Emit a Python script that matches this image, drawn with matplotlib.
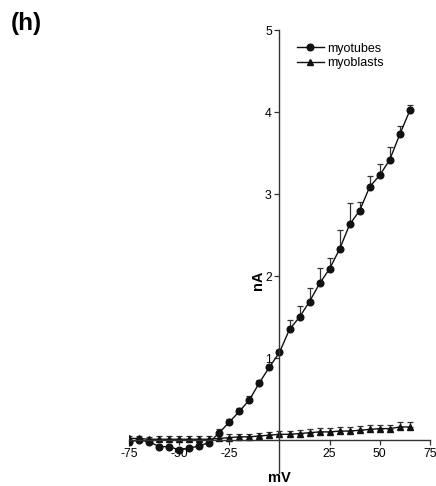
import numpy as np
import matplotlib.pyplot as plt

plt.rcParams['font.family'] = ['Liberation Sans', 'DejaVu Sans']
plt.rcParams['axes.unicode_minus'] = False

# membrane potential (mV)
mv = np.arange(-75, 70, 5)

# myotubes current (nA) and upper error
myotubes = [-0.02, 0.00, -0.02, -0.08, -0.08, -0.12, -0.10, -0.07, -0.03,
            0.09, 0.22, 0.35, 0.49, 0.70, 0.89, 1.07, 1.35, 1.50, 1.69,
            1.91, 2.09, 2.33, 2.63, 2.80, 3.09, 3.23, 3.42, 3.73, 4.02]
myotubes_err = [0.02, 0.02, 0.02, 0.02, 0.02, 0.02, 0.02, 0.02, 0.02,
                0.04, 0.04, 0.04, 0.05, 0.03, 0.03, 0.03, 0.12, 0.13, 0.17,
                0.19, 0.13, 0.23, 0.26, 0.10, 0.13, 0.14, 0.15, 0.10, 0.07]

# myoblasts current (nA) and upper error
myoblasts = [0.02, 0.02, 0.01, 0.01, 0.01, 0.01, 0.01, 0.01, 0.01,
             0.02, 0.03, 0.04, 0.04, 0.05, 0.06, 0.07, 0.07, 0.08, 0.09,
             0.10, 0.10, 0.11, 0.11, 0.12, 0.13, 0.14, 0.14, 0.16, 0.16]
myoblasts_err = [0.03, 0.03, 0.03, 0.04, 0.04, 0.04, 0.04, 0.04, 0.04,
                 0.04, 0.04, 0.04, 0.04, 0.04, 0.04, 0.045, 0.045, 0.045, 0.05,
                 0.05, 0.05, 0.05, 0.05, 0.05, 0.05, 0.05, 0.05, 0.06, 0.06]

fig = plt.figure(figsize=(4.36, 4.86), dpi=100)
ax = fig.add_axes([0.296, 0.027, 0.690, 0.911])

zeros = np.zeros(len(mv))
# error bars first (upper only), then lines with markers
ax.errorbar(mv, myotubes, yerr=[zeros, myotubes_err], fmt='none',
            elinewidth=0.9, capsize=2.5, capthick=0.9, ecolor='#333333')
ax.errorbar(mv, myoblasts, yerr=[zeros, myoblasts_err], fmt='none',
            elinewidth=0.9, capsize=2.5, capthick=0.9, ecolor='#333333')
ax.plot(mv, myotubes, '-o', color='#111111', ms=4.8, lw=1.0, label='myotubes')
ax.plot(mv, myoblasts, '-^', color='#111111', ms=4.8, lw=1.0, label='myoblasts')

ax.set_xlim(-75, 75)
ax.set_ylim(-0.4, 5)
ax.spines['left'].set_position(('data', 0))
ax.spines['bottom'].set_position(('data', 0))
ax.spines['right'].set_visible(False)
ax.spines['top'].set_visible(False)
for s in ('left', 'bottom'):
    ax.spines[s].set_linewidth(1.0)
    ax.spines[s].set_color('#333333')

ax.set_xticks([-75, -50, -25, 25, 50, 75])
ax.set_yticks([1, 2, 3, 4, 5])
ax.tick_params(axis='both', labelsize=8.8, length=3.5, width=0.9,
               color='#333333', pad=2)
ax.patch.set_visible(False)

ax.text(-10.7, 1.95, 'nA', rotation=90, fontsize=10.5, fontweight='bold',
        ha='center', va='center')
ax.text(0, -0.46, 'mV', fontsize=10.5, fontweight='bold',
        ha='center', va='center', clip_on=False)

ax.legend(loc='upper left', bbox_to_anchor=(0.54, 0.983), frameon=False,
          fontsize=9, handlelength=2.2, handletextpad=0.25,
          labelspacing=0.2, borderaxespad=0)

fig.text(0.025, 0.975, '(h)', fontsize=17.5, fontweight='bold', va='top')

fig.savefig('out.png', dpi=100)
